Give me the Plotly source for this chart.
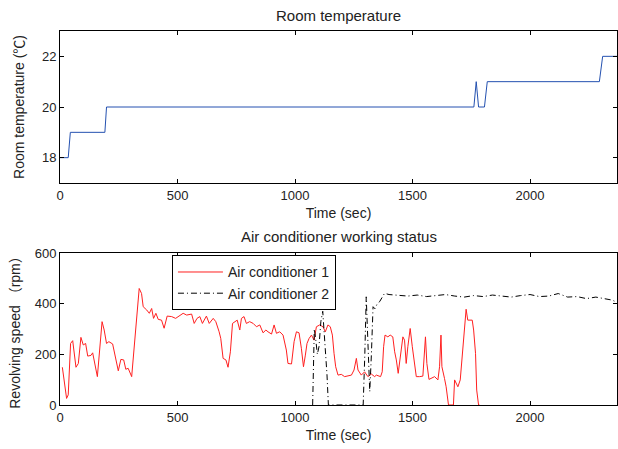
import plotly.graph_objects as go
from plotly.subplots import make_subplots

# room temperature (step record)
temp_t = [0, 35, 44, 191, 198, 1761, 1771, 1781, 1806, 1818, 2295, 2309, 2370]
temp_v = [18, 18, 19, 19, 20, 20, 21, 20, 20, 21, 21, 22, 22]

# air conditioner 1 speed
ac1_t = [10, 28, 35, 45, 54, 68, 78, 89, 99, 109, 118, 132, 139, 159, 179, 188,
         198, 208, 224, 234, 248, 259, 271, 280, 290, 305, 316, 327, 337, 347,
         354, 369, 380, 390, 398, 408, 418, 432, 443, 456, 475, 492, 503, 524,
         539, 560, 571, 583, 595, 606, 623, 635, 652, 663, 677, 684, 694, 706,
         715, 725, 734, 744, 754, 765, 772, 783, 793, 807, 822, 836, 850, 864,
         876, 885, 900, 911, 921, 935, 949, 963, 970, 985, 996, 1006, 1017,
         1027, 1036, 1044, 1051, 1060, 1070, 1081, 1091, 1105, 1119, 1129,
         1140, 1150, 1159, 1166, 1173, 1183, 1197, 1211, 1225, 1240, 1251,
         1261, 1268, 1282, 1296, 1310, 1325, 1339, 1346, 1364, 1371, 1377,
         1383, 1395, 1405, 1416, 1424, 1431, 1439, 1448, 1459, 1466, 1473,
         1480, 1490, 1499, 1509, 1516, 1530, 1544, 1555, 1561, 1570, 1594,
         1608, 1615, 1621, 1625, 1636, 1643, 1653, 1674, 1679, 1693, 1703,
         1714, 1721, 1728, 1735, 1754, 1760, 1768, 1773, 1781, 1785]
ac1_v = [149, 26, 40, 243, 254, 149, 164, 267, 237, 243, 193, 196, 206, 112,
         329, 296, 243, 250, 241, 191, 135, 180, 178, 141, 145, 112, 243, 362,
         460, 440, 388, 375, 362, 381, 342, 362, 338, 335, 303, 351, 349, 342,
         349, 362, 355, 359, 322, 342, 349, 322, 351, 322, 342, 329, 289, 263,
         184, 178, 149, 210, 322, 329, 335, 296, 342, 349, 322, 329, 322, 309,
         316, 285, 296, 289, 280, 316, 283, 289, 276, 217, 164, 162, 250, 289,
         285, 224, 151, 197, 243, 263, 276, 256, 309, 316, 309, 289, 316, 309,
         276, 204, 151, 118, 121, 112, 114, 118, 138, 184, 138, 118, 131, 112,
         122, 112, 118, 112, 131, 230, 276, 269, 276, 269, 210, 178, 125, 191,
         269, 256, 164, 230, 302, 230, 151, 112, 112, 114, 269, 164, 101, 112,
         99, 151, 276, 151, 105, 72, 0, 0, 99, 72, 99, 217, 322, 378, 335, 335,
         296, 204, 59, 0, 0]

# air conditioner 2 speed
ac2_t = [1075, 1082, 1088, 1095, 1102, 1110, 1118, 1124, 1130, 1136, 1142,
         1290, 1297, 1303, 1310, 1318, 1325, 1332, 1340, 1350, 1360, 1370,
         1381, 1400, 1440, 1480, 1520, 1560, 1600, 1640, 1680, 1720, 1760,
         1800, 1840, 1880, 1920, 1960, 2000, 2040, 2080, 2120, 2160, 2200,
         2240, 2280, 2320, 2350, 2370]
ac2_v = [0, 300, 260, 200, 230, 330, 370, 290, 230, 120, 0,
         0, 200, 427, 250, 53, 200, 388, 380, 400, 408, 425,
         441, 436, 432, 430, 434, 428, 432, 436, 430, 426, 432,
         428, 434, 430, 426, 432, 436, 428, 430, 440, 426, 428,
         420, 426, 418, 414, 405]

FONT = "Liberation Sans, Arial, Noto Sans CJK SC, sans-serif"
TXT = "#222"

fig = make_subplots(rows=2, cols=1)
fig.add_trace(go.Scatter(x=temp_t, y=temp_v, mode="lines",
                         line=dict(color="#2451B0", width=1), showlegend=False),
              row=1, col=1)
fig.add_trace(go.Scatter(x=ac1_t, y=ac1_v, mode="lines", name="Air conditioner 1",
                         line=dict(color="#FF2020", width=1)), row=2, col=1)
fig.add_trace(go.Scatter(x=ac2_t, y=ac2_v, mode="lines", name="Air conditioner 2",
                         line=dict(color="black", width=1, dash="6px,3px,1px,3px")),
              row=2, col=1)

ax = dict(showline=True, linecolor="black", linewidth=1, mirror="ticks",
          ticks="inside", ticklen=4, tickcolor="black", showgrid=False,
          zeroline=False, tickfont=dict(size=13, color=TXT))

fig.update_xaxes(**ax, range=[0, 2370], tickvals=[0, 500, 1000, 1500, 2000],
                 title=dict(text="Time (sec)", font=dict(size=14, color=TXT),
                            standoff=6))
fig.update_yaxes(**ax)
fig.update_yaxes(domain=[0.5936, 1], range=[17, 23], tickvals=[18, 20, 22],
                 title=dict(text="Room temperature (℃)",
                            font=dict(size=14, color=TXT), standoff=14),
                 row=1, col=1)
fig.update_yaxes(domain=[0, 0.4064], range=[0, 600], tickvals=[0, 200, 400, 600],
                 title=dict(text="Revolving speed （rpm）",
                            font=dict(size=14, color=TXT), standoff=10),
                 row=2, col=1)

fig.update_layout(
    width=618, height=449,
    margin=dict(l=60, r=1, t=31, b=44),
    paper_bgcolor="white", plot_bgcolor="white",
    font=dict(family=FONT, size=13, color=TXT),
    legend=dict(x=0.201, y=0.40, xanchor="left", yanchor="top",
                bgcolor="white", bordercolor="black", borderwidth=1,
                font=dict(size=14), tracegroupgap=0, itemwidth=45),
    annotations=[
        dict(text="Room temperature", xref="paper", yref="paper", x=0.5, y=1,
             yshift=5, xanchor="center", yanchor="bottom", showarrow=False,
             font=dict(size=15, color=TXT)),
        dict(text="Air conditioner working status", xref="paper", yref="paper",
             x=0.5, y=0.4064, yshift=6, xanchor="center", yanchor="bottom",
             showarrow=False, font=dict(size=15, color=TXT)),
    ],
)

fig.write_html("out.html", config={"displayModeBar": False},
               post_script="document.body.style.margin='0';")
